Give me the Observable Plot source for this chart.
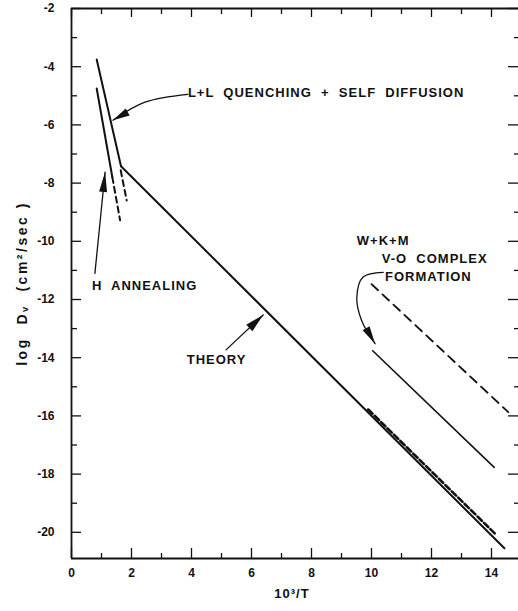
<!DOCTYPE html>
<html><head><meta charset="utf-8">
<script src="https://cdn.jsdelivr.net/npm/d3@7"></script>
<script src="https://cdn.jsdelivr.net/npm/@observablehq/plot@0.6"></script>
<style>
html,body{margin:0;padding:0;background:#fff;}
svg text{white-space:pre;}
</style>
</head><body><div id="chart"></div>
<script>
// ---- axis ticks ----
const xTicksMajor = [0, 2, 4, 6, 8, 10, 12, 14];
const xTicksMinor = [1, 3, 5, 7, 9, 11, 13];
const yTicksMajor = [-2, -4, -6, -8, -10, -12, -14, -16, -18, -20];
const yTicksMinor = [-3, -5, -7, -9, -11, -13, -15, -17, -19];

// ---- series (x = 10^3/T, y = log Dv) ----
const llQuenchX = [0.84, 1.65];   const llQuenchY = [-3.75, -7.42];
const llDashX   = [1.64, 1.84];   const llDashY   = [-7.56, -8.60];
const hAnnealX  = [0.84, 1.36];   const hAnnealY  = [-4.75, -7.79];
const hDashX    = [1.36, 1.62];   const hDashY    = [-7.79, -9.28];
const theoryX   = [1.65, 14.43];  const theoryY   = [-7.42, -20.55];
const theoryDashX = [9.89, 14.17]; const theoryDashY = [-15.78, -20.10];
const wkmSolidX = [10.04, 14.09]; const wkmSolidY = [-13.76, -17.77];
const wkmDashX  = [10.0, 14.56];  const wkmDashY  = [-11.47, -15.87];

// ---- annotations ----
const annText = ["L+L  QUENCHING  +  SELF  DIFFUSION", "H  ANNEALING", "THEORY", "W+K+M", "V-O  COMPLEX", "FORMATION"];
const annX = [3.88, 0.68, 3.84, 9.51, 10.34, 10.45];
const annY = [-4.91, -11.52, -14.09, -10.0, -10.6, -11.23];

const llArrowX = [3.88, 2.45, 1.38];  const llArrowY = [-4.95, -5.22, -5.84];
const hArrowX  = [0.78, 1.12];        const hArrowY  = [-11.10, -7.62];
const thArrowX = [5.15, 6.39];        const thArrowY = [-13.73, -12.53];
const vArrowX  = [10.39, 9.72, 9.51, 9.67, 10.12]; const vArrowY = [-11.07, -11.23, -11.92, -12.72, -13.52];

const yLabel = "log  Dᵥ  (cm²/sec )";
const xLabel = "10³/T";

// ---- layout ----
const W = 518, H = 611, mL = 71, mR = 0, mT = 8, mB = 53;
const xDomain = [0, 14.9], yDomain = [-20.9, -2];
const plotW = W - mL - mR, plotH = H - mT - mB;
const kx = plotW / (xDomain[1] - xDomain[0]);
const ky = plotH / (yDomain[1] - yDomain[0]);

const zip = (xs, ys) => xs.map((x, i) => ({x, y: ys[i]}));
function head(xs, ys, len, half, id) {
  const n = xs.length;
  const tail = [xs[n - 2], ys[n - 2]], tip = [xs[n - 1], ys[n - 1]];
  const dx = (tip[0] - tail[0]) * kx, dy = -(tip[1] - tail[1]) * ky;
  const L = Math.hypot(dx, dy), ux = dx / L, uy = dy / L;
  const bx = -ux * len, by = -uy * len, px = -uy * half, py = ux * half;
  return [[0, 0], [bx + px, by + py], [bx - px, by - py]]
    .map(([ox, oy]) => ({x: tip[0] + ox / kx, y: tip[1] - oy / ky, id}));
}
const heads = [
  ...head(llArrowX, llArrowY, 17, 4, "a"),
  ...head(hArrowX, hArrowY, 20, 4, "b"),
  ...head(thArrowX, thArrowY, 19, 4.5, "c"),
  ...head(vArrowX, vArrowY, 18, 4, "d")
];

const ann = annText.map((t, i) => ({t, x: annX[i], y: annY[i]}));

const chart = Plot.plot({
  width: W, height: H,
  marginLeft: mL, marginRight: mR, marginTop: mT, marginBottom: mB,
  style: {fontFamily: "'Liberation Sans', Arial, sans-serif", fontWeight: "bold", fontSize: "12px", color: "#111", background: "#fff"},
  x: {domain: xDomain},
  y: {domain: yDomain},
  marks: [
    // frame: left, top, bottom (right side falls at the cropped edge)
    Plot.ruleX([xDomain[0]], {x: d => d, strokeWidth: 1.8}),
    Plot.ruleY([yDomain[0], yDomain[1]], {y: d => d, strokeWidth: 1.8}),
    Plot.axisX(xTicksMajor, {tickSize: 0, tickPadding: 10, label: null, tickFormat: d => String(d), fontSize: 12}),
    Plot.axisY(yTicksMajor, {tickSize: 0, tickPadding: 17, label: null, tickFormat: d => "-" + Math.abs(d), fontSize: 12}),
    // inward ticks
    Plot.ruleX(xTicksMajor, {x: d => d, insetTop: plotH - 10, strokeWidth: 1.3}),
    Plot.ruleX(xTicksMinor, {x: d => d, insetTop: plotH - 5, strokeWidth: 1.3}),
    Plot.ruleX(xTicksMajor, {x: d => d, insetBottom: plotH - 9, strokeWidth: 1.3}),
    Plot.ruleX(xTicksMinor, {x: d => d, insetBottom: plotH - 6, strokeWidth: 1.3}),
    Plot.ruleY(yTicksMajor, {y: d => d, insetRight: plotW - 10, strokeWidth: 1.3}),
    Plot.ruleY(yTicksMinor, {y: d => d, insetRight: plotW - 6, strokeWidth: 1.3}),
    Plot.ruleY(yTicksMajor, {y: d => d, insetLeft: plotW - 10, strokeWidth: 1.3}),
    Plot.ruleY(yTicksMinor, {y: d => d, insetLeft: plotW - 4, strokeWidth: 1.3}),
    // data lines
    Plot.line(zip(llQuenchX, llQuenchY), {x: "x", y: "y", strokeWidth: 2}),
    Plot.line(zip(llDashX, llDashY), {x: "x", y: "y", strokeWidth: 2, strokeDasharray: "6,4"}),
    Plot.line(zip(hAnnealX, hAnnealY), {x: "x", y: "y", strokeWidth: 2}),
    Plot.line(zip(hDashX, hDashY), {x: "x", y: "y", strokeWidth: 2, strokeDasharray: "6,4"}),
    Plot.line(zip(theoryX, theoryY), {x: "x", y: "y", strokeWidth: 2}),
    Plot.line(zip(theoryDashX, theoryDashY), {x: "x", y: "y", strokeWidth: 2.6, strokeDasharray: "6,3"}),
    Plot.line(zip(wkmSolidX, wkmSolidY), {x: "x", y: "y", strokeWidth: 1.6}),
    Plot.line(zip(wkmDashX, wkmDashY), {x: "x", y: "y", strokeWidth: 1.8, strokeDasharray: "9,6"}),
    // annotation arrows
    Plot.line(zip(llArrowX, llArrowY), {x: "x", y: "y", strokeWidth: 1.3, curve: "catmull-rom"}),
    Plot.line(zip(hArrowX, hArrowY), {x: "x", y: "y", strokeWidth: 1.3}),
    Plot.line(zip(thArrowX, thArrowY), {x: "x", y: "y", strokeWidth: 1.3}),
    Plot.line(zip(vArrowX, vArrowY), {x: "x", y: "y", strokeWidth: 1.3, curve: "catmull-rom"}),
    Plot.line(heads, {x: "x", y: "y", z: "id", fill: "currentColor", strokeWidth: 0.8}),
    // annotation text
    Plot.text(ann, {x: "x", y: "y", text: "t", textAnchor: "start", fontSize: 13, fontWeight: "bold"}),
    Plot.text([yLabel], {frameAnchor: "left", textAnchor: "middle", rotate: -90, dx: -49, fontSize: 14, fontWeight: "bold"}),
    Plot.text([xLabel], {frameAnchor: "bottom", dy: 39, dx: -3, fontSize: 13, fontWeight: "bold"})
  ]
});
d3.select(chart).selectAll('g[aria-label="text"] text').style("letter-spacing", "1px");
d3.select(chart).selectAll('g[aria-label="text"] text')
  .filter(function() { return this.textContent === yLabel; })
  .style("letter-spacing", "2.5px");
document.getElementById("chart").appendChild(chart);
</script>
</body></html>
